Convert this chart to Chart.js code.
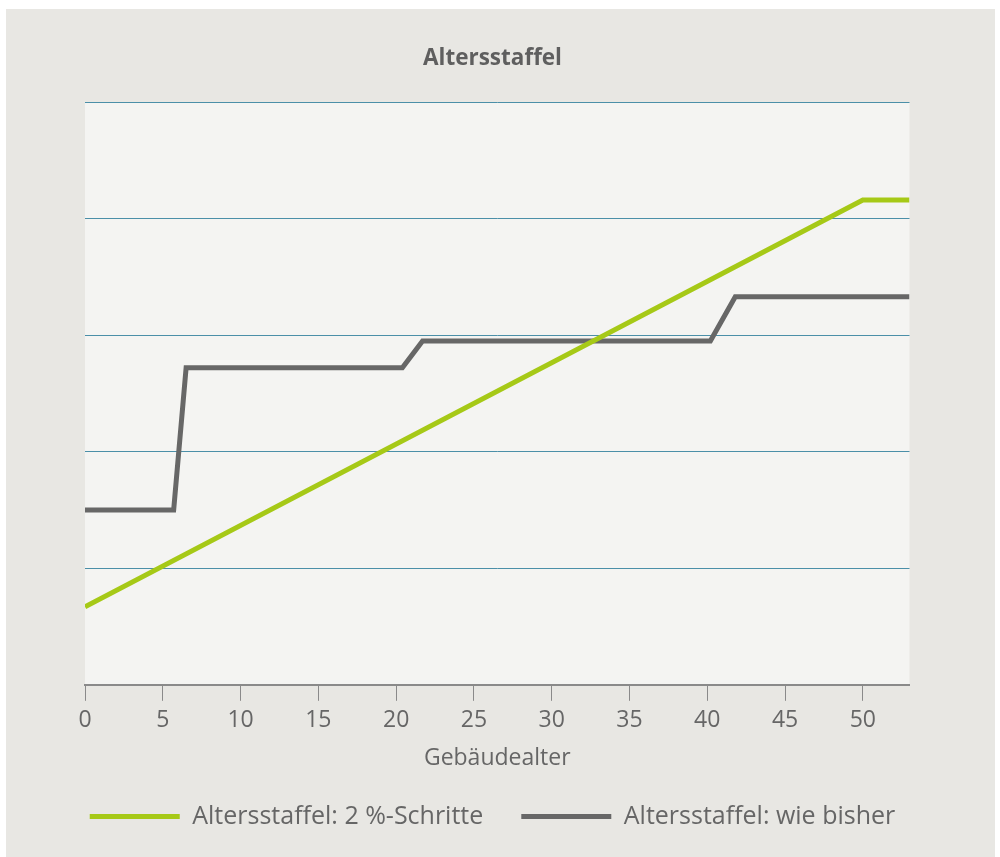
<!DOCTYPE html>
<html>
<head>
<meta charset="utf-8">
<script src="https://cdn.jsdelivr.net/npm/chart.js@4/dist/chart.umd.min.js"></script>
<style>
  html, body { margin: 0; padding: 0; background: #ffffff; }
  #wrap { position: absolute; left: 6px; top: 9px; width: 989px; height: 848px; background: #e8e7e3; }
  canvas { display: block; }
</style>
</head>
<body>
<div id="wrap"><canvas id="c"></canvas></div>
<script>
const titleText = 'Altersstaffel';
const xTitle = 'Gebäudealter';
const seriesNames = ['Altersstaffel: 2 %-Schritte', 'Altersstaffel: wie bisher'];

const greenX = [0, 50, 53];
const greenY = [6.7, 41.6, 41.6];

const grayX = [0, 5.7, 6.5, 20.4, 21.7, 40.2, 41.8, 53];
const grayY = [15, 15, 27.2, 27.2, 29.5, 29.5, 33.3, 33.3];

const xMin = 0, xMax = 53, xStep = 5;
const yMin = 0, yMax = 50, yStep = 10;

const FONT = "'Open Sans', 'DejaVu Sans', sans-serif";
const TEXT = '#666666';
const GREEN = '#a6c917';
const GRAY = '#676767';

const plotBg = {
  id: 'plotBg',
  beforeDraw(chart) {
    const { ctx, chartArea: { left, top, right, bottom } } = chart;
    ctx.save();
    ctx.fillStyle = '#f4f4f2';
    ctx.fillRect(left, top, right - left, bottom - top);
    ctx.restore();
  }
};

new Chart(document.getElementById('c'), {
  type: 'line',
  data: {
    datasets: [
      {
        label: seriesNames[0],
        data: greenX.map((x, i) => ({ x, y: greenY[i] })),
        borderColor: GREEN, backgroundColor: GREEN,
        borderWidth: 5, pointRadius: 0, tension: 0
      },
      {
        label: seriesNames[1],
        data: grayX.map((x, i) => ({ x, y: grayY[i] })),
        borderColor: GRAY, backgroundColor: GRAY,
        borderWidth: 5, pointRadius: 0, tension: 0
      }
    ]
  },
  options: {
    responsive: true,
    maintainAspectRatio: false,
    animation: false,
    layout: { padding: { left: 0, right: 16, top: 0, bottom: 18 } },
    plugins: {
      title: {
        display: true, text: titleText, color: '#5f5f5f',
        font: { family: FONT, size: 22.5, weight: 'bold' },
        padding: { top: 36, bottom: 30 }
      },
      legend: {
        position: 'bottom',
        labels: {
          boxWidth: 90, boxHeight: 5, padding: 38, color: TEXT,
          font: { family: FONT, size: 25 },
          generateLabels: (chart) => Chart.defaults.plugins.legend.labels.generateLabels(chart)
            .map(l => ({ ...l, lineWidth: 0, fillStyle: l.strokeStyle }))
        }
      },
      tooltip: { enabled: false }
    },
    scales: {
      x: {
        type: 'linear', min: xMin, max: xMax,
        afterBuildTicks: (s) => { s.ticks = s.ticks.filter(t => t.value % xStep === 0); },
        ticks: { stepSize: xStep, color: TEXT, font: { family: FONT, size: 23 }, padding: 6, maxRotation: 0 },
        grid: { drawOnChartArea: false, drawTicks: true, tickLength: 16, color: '#8a8a8a', lineWidth: 1 },
        border: { display: true, color: '#8a8a8a', width: 2 },
        title: { display: true, text: xTitle, color: TEXT, font: { family: FONT, size: 23 }, padding: { top: 4, bottom: -6 } }
      },
      y: {
        min: yMin, max: yMax,
        afterFit: (s) => { s.width = 79; },
        ticks: { stepSize: yStep, display: false },
        grid: { drawTicks: false, color: (c) => c.tick && c.tick.value === 0 ? 'rgba(0,0,0,0)' : '#4b8fa8', lineWidth: 1 },
        border: { display: false }
      },
      yR: {
        position: 'right', min: yMin, max: yMax,
        afterFit: (s) => { s.width = 69.5; },
        ticks: { display: false },
        grid: { drawOnChartArea: false, drawTicks: false },
        border: { display: false }
      }
    }
  },
  plugins: [plotBg]
});
</script>
</body>
</html>
